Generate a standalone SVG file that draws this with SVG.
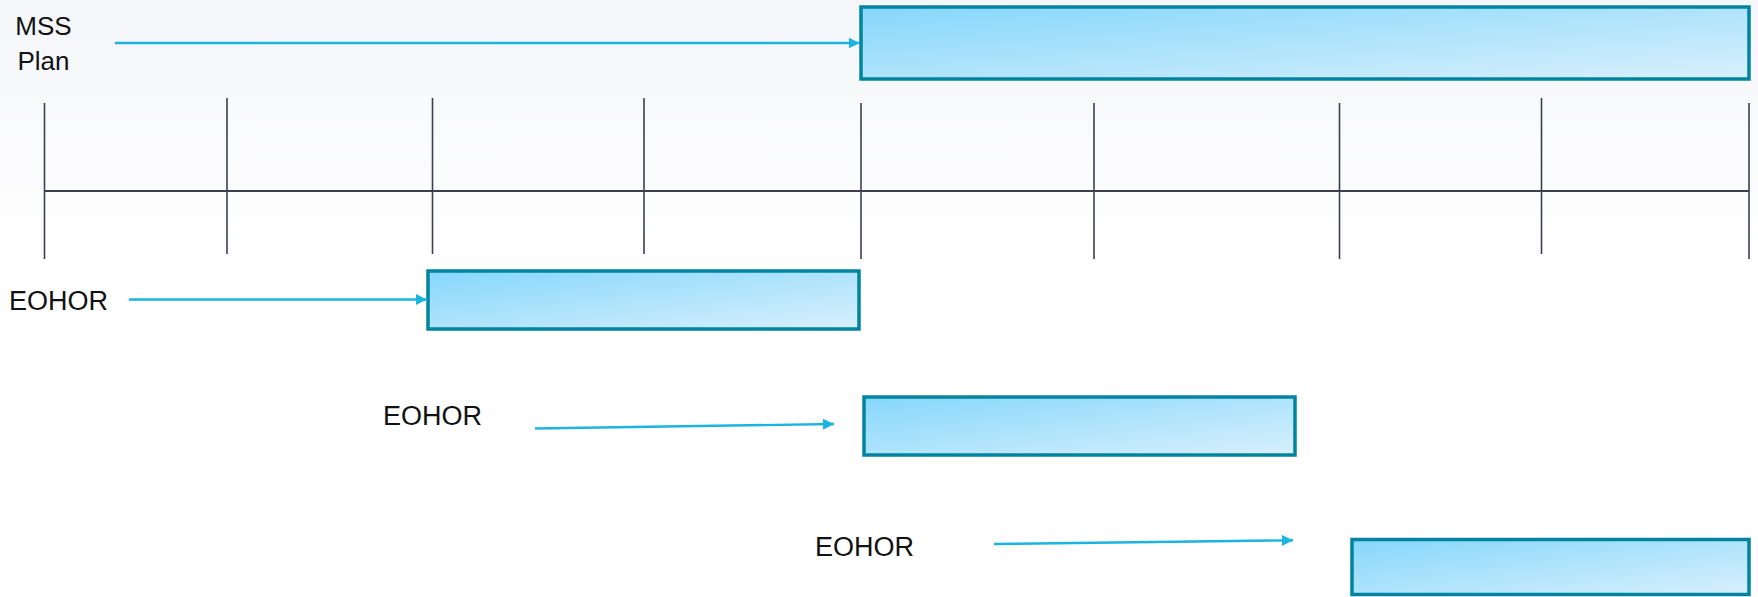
<svg xmlns="http://www.w3.org/2000/svg" width="1758" height="597" viewBox="0 0 1758 597">
  <defs>
    <linearGradient id="bg" x1="0" y1="0" x2="0" y2="1">
      <stop offset="0" stop-color="#F5F6FA"/>
      <stop offset="1" stop-color="#FFFFFF"/>
    </linearGradient>
    <linearGradient id="boxFill" x1="0" y1="0" x2="1" y2="1">
      <stop offset="0" stop-color="#86D7FC"/>
      <stop offset="1" stop-color="#D8F0FC"/>
    </linearGradient>
    <marker id="arr" viewBox="0 0 10 10" refX="10" refY="5" markerWidth="11" markerHeight="12" markerUnits="userSpaceOnUse" orient="auto">
      <path d="M0,0 L10,5 L0,10 Z" fill="#1AB4DF"/>
    </marker>
    <style>
      .bar { fill: url(#boxFill); stroke: #00849F; stroke-width: 3.5; }
      .lbl { font-family: "Liberation Sans", Arial, sans-serif; font-size: 26px; fill: #111111; }
      .conn { stroke: #1AB4DF; stroke-width: 2.4; fill: none; marker-end: url(#arr); }
      .tick { stroke: #3B4050; stroke-width: 1.6; }
      .axis { stroke: #3B4050; stroke-width: 2.2; }
    </style>
  </defs>
  <rect x="0" y="0" width="1758" height="597" fill="#FFFFFF"/>
  <rect x="0" y="0" width="1758" height="260" fill="url(#bg)"/>

  <g id="timeline">
    <line class="axis" x1="44.5" y1="191" x2="1749" y2="191"/>
    <line class="tick" x1="44.5" y1="103" x2="44.5" y2="259"/>
    <line class="tick" x1="227" y1="98" x2="227" y2="254"/>
    <line class="tick" x1="432.5" y1="98" x2="432.5" y2="254"/>
    <line class="tick" x1="644" y1="98" x2="644" y2="254"/>
    <line class="tick" x1="861" y1="103" x2="861" y2="259"/>
    <line class="tick" x1="1094" y1="103" x2="1094" y2="259"/>
    <line class="tick" x1="1339.5" y1="103" x2="1339.5" y2="259"/>
    <line class="tick" x1="1541.5" y1="98" x2="1541.5" y2="254"/>
    <line class="tick" x1="1749" y1="103" x2="1749" y2="259"/>
  </g>

  <g id="mss-label">
    <text class="lbl" x="43.5" y="35" text-anchor="middle">MSS</text>
    <text class="lbl" x="43.5" y="70" text-anchor="middle">Plan</text>
  </g>
  <g id="mss-bar">
    <rect class="bar" x="861" y="7" width="888" height="72"/>
  </g>

  <g id="eohor1-label">
    <text class="lbl" x="9" y="310" style="font-size:27px">EOHOR</text>
  </g>
  <g id="eohor1-bar">
    <rect class="bar" x="428" y="271" width="431" height="58"/>
  </g>

  <g id="eohor2-label">
    <text class="lbl" x="383" y="424.5" style="font-size:27px">EOHOR</text>
  </g>
  <g id="eohor2-bar">
    <rect class="bar" x="864" y="397" width="431" height="58"/>
  </g>

  <g id="eohor3-label">
    <text class="lbl" x="815" y="556" style="font-size:27px">EOHOR</text>
  </g>
  <g id="eohor3-bar">
    <rect class="bar" x="1352" y="539.5" width="397" height="55"/>
  </g>

  <g id="connectors">
    <line class="conn" x1="115" y1="43" x2="859.5" y2="43"/>
    <line class="conn" x1="129" y1="299.5" x2="427" y2="299.5"/>
    <line class="conn" x1="535" y1="428.5" x2="834" y2="424"/>
    <line class="conn" x1="994" y1="544" x2="1293" y2="540.3"/>
  </g>
</svg>
